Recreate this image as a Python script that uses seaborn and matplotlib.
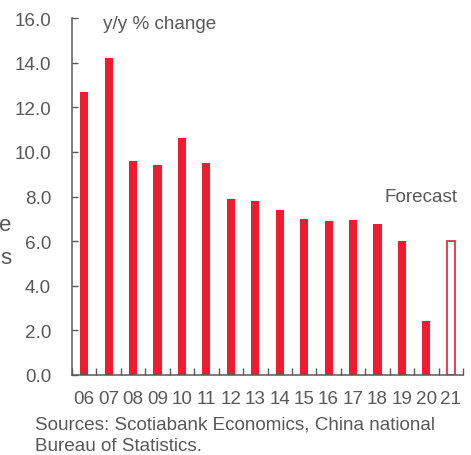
import matplotlib
matplotlib.use("Agg")
import matplotlib.pyplot as plt
import seaborn as sns
import pandas as pd
import numpy as np

years = ["06", "07", "08", "09", "10", "11", "12", "13", "14", "15", "16", "17", "18", "19", "20", "21"]
growth = [12.7, 14.2, 9.6, 9.4, 10.6, 9.5, 7.9, 7.8, 7.4, 7.0, 6.9, 6.95, 6.75, 6.0, 2.4, 6.0]
forecast_flags = [False] * 15 + [True]
y_ticks = [0, 2, 4, 6, 8, 10, 12, 14, 16]

RED = "#EE1C2E"
GREY = "#595959"
FS = 13.6

sns.set_theme(style="white")
plt.rcParams["font.family"] = ["Liberation Sans", "DejaVu Sans"]

df = pd.DataFrame({"year": years, "growth": growth, "forecast": forecast_flags})

fig = plt.figure(figsize=(4.71, 4.56), dpi=100)
ax = fig.add_axes([72 / 471, 80 / 456, (463 - 72) / 471, (376 - 19) / 456])

sns.barplot(data=df, x="year", y="growth", color=RED, width=0.33,
            saturation=1, ax=ax, errorbar=None)

# forecast bar drawn hollow
for patch, is_fc in zip(ax.patches, df["forecast"]):
    if is_fc:
        patch.set_facecolor("white")
        patch.set_edgecolor(RED)
        patch.set_linewidth(1.2)
    else:
        patch.set_edgecolor("none")

ax.set_xlim(-0.5, len(years) - 0.5)
ax.set_ylim(0, 16)
ax.set_yticks(y_ticks)
ax.set_yticklabels([f"{v:.1f}" for v in y_ticks])
ax.set_xlabel("")
ax.set_ylabel("")

for side in ["top", "right"]:
    ax.spines[side].set_visible(False)
for side in ["left", "bottom"]:
    ax.spines[side].set_color(GREY)
    ax.spines[side].set_linewidth(1.1)

ax.tick_params(axis="y", direction="in", length=4, width=1.0, color=GREY,
               labelcolor=GREY, labelsize=FS, pad=15, left=True)
ax.tick_params(axis="x", which="major", length=0, labelcolor=GREY,
               labelsize=FS, pad=11)
ax.set_xticks(np.arange(-0.5, len(years), 1.0), minor=True)
ax.tick_params(axis="x", which="minor", direction="in", length=5, width=1.0,
               color=GREY, bottom=True)

ax.text(0.08, 0.985, "y/y % change", transform=ax.transAxes, fontsize=FS,
        color=GREY, ha="left", va="center")
ax.text(0.985, 0.5, "Forecast", transform=ax.transAxes, fontsize=FS,
        color=GREY, ha="right", va="center")

fig.text(35 / 471, 1 - 425 / 456, "Sources: Scotiabank Economics, China national",
         fontsize=FS, color=GREY, ha="left", va="center")
fig.text(35 / 471, 1 - 447 / 456, "Bureau of Statistics.",
         fontsize=FS, color=GREY, ha="left", va="center")

# trailing letters of the side caption
fig.text(11 / 471, 1 - 226 / 456, "e", fontsize=16, color=GREY, ha="right", va="center")
fig.text(11 / 471, 1 - 259 / 456, "s", fontsize=16, color=GREY, ha="right", va="center")

fig.savefig("out.png", dpi=100)
